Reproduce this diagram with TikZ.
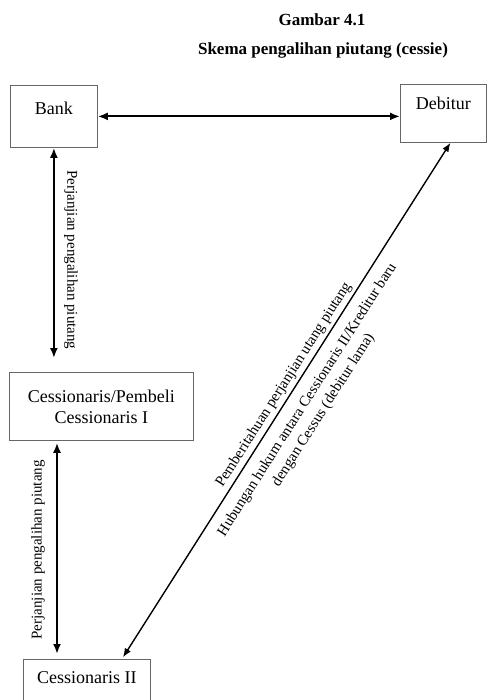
\documentclass[tikz,border=0pt]{standalone}
\usepackage{fontspec}
\setmainfont{Liberation Serif}
\usetikzlibrary{positioning,arrows.meta,arrows}
\tikzset{
mybox/.style={
  draw=black!60,
  line width=0.8pt,
  anchor=north west,
  align=center,
  inner sep=0pt,
  font=\fontsize{18}{21}\selectfont
  },
mylabel/.style={
  font=\fontsize{15}{19}\selectfont,
  align=center,
  inner sep=2pt
  },
mytitle/.style={
  font=\bfseries\fontsize{17}{20}\selectfont
  },
myarrow/.style={<->, line width=2.2pt}
}

\begin{document}
\begin{tikzpicture}[>={Latex[length=10pt,width=8pt]}, x=1pt, y=1pt]
\useasboundingbox (0,0) rectangle (487,-700);

% title
\node[mytitle] (title) at (322,-20) {Gambar 4.1};
\node[mytitle] (subtitle) at (323,-50) {Skema pengalihan piutang (cessie)};

% parties
\node[mybox, minimum width=87pt, text height=29pt, text depth=33pt]
  at (10,-85) (bank) {Bank};
\node[mybox, minimum width=86pt, text height=25pt, text depth=33pt]
  at (400,-84) (debitur) {Debitur};
\node[mybox, minimum width=184pt, minimum height=68pt]
  at (9,-372) (cess1) {Cessionaris/Pembeli\\Cessionaris I};
\node[mybox, minimum width=127pt, text height=24pt, text depth=36pt]
  at (23,-659) (cess2) {Cessionaris II};

\coordinate (c2left) at ([xshift=34pt]cess2.north west);
\coordinate (c2right) at ([xshift=35pt]cess2.north);
\coordinate (debfoot) at ([xshift=7pt]debitur.south);

\begin{scope}
\draw[myarrow]
  (bank.east) -- (bank.east -| debitur.west);
\draw[myarrow, shorten >=14pt]
  (bank.south) -- (bank.south |- cess1.north)
  node[mylabel, midway, xshift=17pt, rotate=-90] (lab1) {Perjanjian pengalihan piutang};
\draw[myarrow, shorten <=2pt, shorten >=5pt]
  (c2left |- cess1.south) -- (c2left)
  node[mylabel, midway, xshift=-19pt, rotate=90] (lab2) {Perjanjian pengalihan piutang};
\draw[<->, >={Latex[length=9pt,width=7pt]}, line width=1.4pt, shorten <=2pt]
  (c2right) -- (debfoot)
  node[mylabel, pos=0.52, sloped, above=1pt] (lab3) {Pemberitahuan perjanjian utang piutang}
  node[mylabel, pos=0.52, sloped, below=8pt] (lab4) {Hubungan hukum antara Cessionaris II/Kreditur baru\\dengan Cessus (debitur lama)};
\end{scope}
\end{tikzpicture}
\end{document}
